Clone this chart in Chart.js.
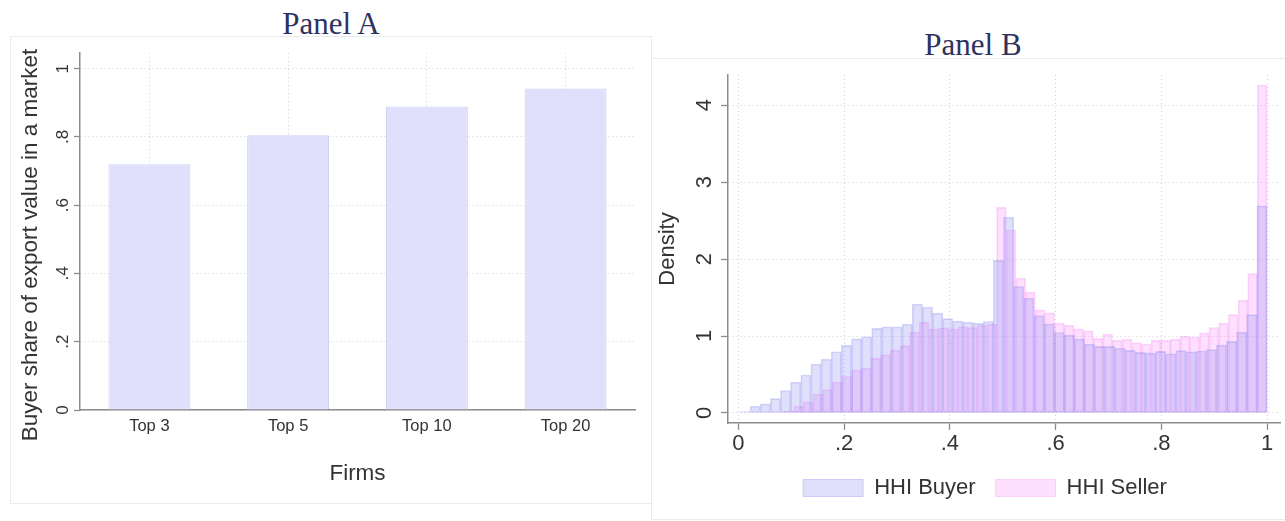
<!DOCTYPE html>
<html>
<head>
<meta charset="utf-8">
<script src="https://cdn.jsdelivr.net/npm/chart.js@4.4.1/dist/chart.umd.min.js"></script>
<style>
  html, body { margin:0; padding:0; background:#ffffff; width:1285px; height:521px; overflow:hidden; }
  .ptitle { position:absolute; font-family:"Liberation Serif", "DejaVu Serif", serif; font-size:31px; line-height:1; color:#2f3160; white-space:nowrap; transform:translateX(-50%); }
  #boxA { position:absolute; left:10px; top:36px; width:642px; height:468px; border:1px solid #e6ebee; box-sizing:border-box; }
  #boxB { position:absolute; left:651px; top:58px; width:645px; height:462px; border:1px solid #e6ebee; box-sizing:border-box; }
  #cA { position:absolute; left:10px; top:36px; }
  #cB { position:absolute; left:652px; top:58px; }
</style>
</head>
<body>
<div id="boxA"></div>
<div id="boxB"></div>
<div class="ptitle" style="left:331px; top:8px;">Panel A</div>
<div class="ptitle" style="left:973px; top:29px;">Panel B</div>
<canvas id="cA" width="642" height="469"></canvas>
<canvas id="cB" width="633" height="461"></canvas>
<script>
// ---------- Panel A data ----------
const firmCategories = ['Top 3', 'Top 5', 'Top 10', 'Top 20'];
const buyerShare = [0.720, 0.805, 0.889, 0.942];
const shareTickValues = [0, 0.2, 0.4, 0.6, 0.8, 1];
const shareTickLabels = ['0', '.2', '.4', '.6', '.8', '1'];
const shareAxisTitle = 'Buyer share of export value in a market';

// ---------- Panel B data (histogram densities, 52 bins each) ----------
const hhiBuyerDensity = [
  0.018, 0.087, 0.118, 0.187, 0.292, 0.400, 0.493, 0.636, 0.698, 0.796,
  0.878, 0.962, 0.990, 1.100, 1.118, 1.118, 1.153, 1.414, 1.377, 1.297,
  1.225, 1.194, 1.179, 1.165, 1.188, 1.983, 2.542, 1.643, 1.490, 1.266,
  1.158, 1.045, 1.012, 0.963, 0.895, 0.865, 0.865, 0.841, 0.813, 0.788,
  0.778, 0.800, 0.770, 0.810, 0.795, 0.805, 0.824, 0.882, 0.930, 1.050,
  1.277, 2.690
];
const hhiSellerDensity = [
  0.003, 0.008, 0.020, 0.088, 0.145, 0.243, 0.305, 0.400, 0.473, 0.558,
  0.582, 0.710, 0.755, 0.815, 0.876, 1.050, 1.178, 1.090, 1.105, 1.090,
  1.120, 1.110, 1.135, 1.150, 2.670, 2.380, 1.750, 1.570, 1.340, 1.300,
  1.167, 1.137, 1.093, 1.067, 0.970, 1.023, 0.943, 0.958, 0.910, 0.896,
  0.943, 0.943, 0.960, 0.995, 0.987, 1.040, 1.110, 1.168, 1.277, 1.462,
  1.810, 4.260
];
const buyerBinStart = 0.0032, buyerBinWidth = 0.01917;
const sellerBinStart = 0.0500, sellerBinWidth = 0.01827;
const hhiTickValues = [0, 0.2, 0.4, 0.6, 0.8, 1];
const hhiTickLabels = ['0', '.2', '.4', '.6', '.8', '1'];
const densityTickValues = [0, 1, 2, 3, 4];
const densityTickLabels = ['0', '1', '2', '3', '4'];

// ---------- shared styling ----------
const FONT = "'Liberation Sans', Arial, Helvetica, sans-serif";
Chart.defaults.font.family = FONT;
Chart.defaults.color = '#333333';
const AXIS = '#8c8c8c';
const GRID = '#d2d2d2';

const noScalePad = s => { s.paddingTop = 0; s.paddingBottom = 0; s.paddingLeft = 0; s.paddingRight = 0; };

const legendShift = {
  id: 'legendShift',
  afterLayout(chart, args, opts) {
    if (chart.legend && opts && opts.dx) {
      chart.legend.left += opts.dx;
      chart.legend.right += opts.dx;
    }
  }
};

// vertical axis title placed at an explicit centre (real text drawn on the canvas)
const sideTitle = {
  id: 'sideTitle',
  afterDraw(chart, args, opts) {
    if (!opts || !opts.text) return;
    const ctx = chart.ctx;
    ctx.save();
    ctx.font = opts.size + 'px ' + FONT;
    ctx.fillStyle = opts.color || '#333';
    ctx.textAlign = 'center';
    ctx.textBaseline = 'middle';
    ctx.translate(opts.x, opts.y);
    ctx.rotate(-Math.PI / 2);
    ctx.fillText(opts.text, 0, 0);
    ctx.restore();
  }
};

// ---------- Panel A ----------
new Chart(document.getElementById('cA'), {
  type: 'bar',
  data: {
    labels: firmCategories,
    datasets: [{
      data: buyerShare,
      backgroundColor: '#e0e0fc',
      borderColor: '#cdcdf6',
      borderWidth: 1,
      borderSkipped: false,
      categoryPercentage: 1,
      barPercentage: 0.59
    }]
  },
  options: {
    responsive: false,
    animation: false,
    devicePixelRatio: 1,
    layout: { padding: { left: 0, right: 17, top: 17, bottom: 0 } },
    plugins: {
      legend: { display: false },
      tooltip: { enabled: false },
      sideTitle: { text: shareAxisTitle, size: 22.5, color: '#333', x: 21, y: 209 }
    },
    scales: {
      x: {
        offset: true,
        grid: { display: true, offset: false, drawTicks: false, color: GRID, lineWidth: 1 },
        border: { display: true, color: AXIS, width: 1.5, dash: [1, 3] },
        ticks: { color: '#333', font: { size: 16.5 }, padding: 7 },
        title: { display: true, text: 'Firms', color: '#333', font: { size: 22.5 }, padding: { top: 0, bottom: 18 } },
        afterFit: s => { s.height = 95; noScalePad(s); }
      },
      y: {
        min: 0, max: 1.046,
        afterBuildTicks: s => { s.ticks = shareTickValues.map(v => ({ value: v })); },
        ticks: {
          callback: (v, i) => shareTickLabels[i],
          minRotation: 90, maxRotation: 90, crossAlign: 'center',
          padding: 4, font: { size: 17 }, color: '#333'
        },
        grid: { color: GRID, lineWidth: 1, tickLength: 6, tickColor: AXIS, tickWidth: 1.3 },
        border: { display: true, color: AXIS, width: 1.5, dash: [1, 3] },
        title: { display: false },
        afterFit: s => { s.width = 70; noScalePad(s); }
      }
    }
  },
  plugins: [sideTitle]
});

// ---------- Panel B ----------
const buyerPoints = hhiBuyerDensity.map((d, k) => ({ x: buyerBinStart + (k + 0.5) * buyerBinWidth, y: d }));
const sellerPoints = hhiSellerDensity.map((d, j) => ({ x: sellerBinStart + (j + 0.5) * sellerBinWidth, y: d }));

new Chart(document.getElementById('cB'), {
  type: 'bar',
  data: {
    datasets: [
      {
        label: 'HHI Buyer',
        data: buyerPoints,
        xAxisID: 'x',
        backgroundColor: 'rgba(140,140,245,0.27)',
        borderColor: 'rgba(120,120,235,0.30)',
        borderWidth: 1,
        borderSkipped: false,
        grouped: false,
        barPercentage: 1,
        categoryPercentage: 1
      },
      {
        label: 'HHI Seller',
        data: sellerPoints,
        xAxisID: 'x2',
        backgroundColor: 'rgba(250,140,250,0.27)',
        borderColor: 'rgba(240,120,240,0.30)',
        borderWidth: 1,
        borderSkipped: false,
        grouped: false,
        barPercentage: 1,
        categoryPercentage: 1
      }
    ]
  },
  options: {
    responsive: false,
    animation: false,
    devicePixelRatio: 1,
    layout: { padding: { left: 0, right: 5, top: 17, bottom: 10 } },
    plugins: {
      tooltip: { enabled: false },
      legend: {
        display: true,
        position: 'bottom',
        labels: { boxWidth: 60, boxHeight: 17, padding: 20, color: '#333', font: { size: 22 } }
      },
      legendShift: { dx: 19 }
    },
    scales: {
      x: {
        type: 'linear',
        offset: false,
        min: -0.0195, max: 1.0245,
        afterBuildTicks: s => { s.ticks = hhiTickValues.map(v => ({ value: v })); },
        ticks: { callback: (v, i) => hhiTickLabels[i], font: { size: 22 }, padding: 0.5, color: '#333', maxRotation: 0 },
        grid: { offset: false, color: GRID, lineWidth: 1, tickLength: 7, tickColor: AXIS, tickWidth: 1.3 },
        border: { display: true, color: AXIS, width: 1.5, dash: [1, 3] },
        afterFit: s => { s.height = 34; noScalePad(s); }
      },
      x2: {
        type: 'linear',
        display: false,
        offset: false,
        min: -0.0195, max: 1.0245,
        grid: { offset: false },
        afterBuildTicks: s => { s.ticks = hhiTickValues.map(v => ({ value: v })); }
      },
      y: {
        min: -0.13, max: 4.39,
        afterBuildTicks: s => { s.ticks = densityTickValues.map(v => ({ value: v })); },
        ticks: {
          callback: (v, i) => densityTickLabels[i],
          minRotation: 90, maxRotation: 90, crossAlign: 'center',
          padding: 10, font: { size: 22 }, color: '#333'
        },
        grid: { color: GRID, lineWidth: 1, tickLength: 7, tickColor: AXIS, tickWidth: 1.3 },
        border: { display: true, color: AXIS, width: 1.5, dash: [1, 3] },
        title: { display: true, text: 'Density', color: '#333', font: { size: 22 }, padding: { top: 3, bottom: 0 } },
        afterFit: s => { s.width = 76; noScalePad(s); }
      }
    }
  },
  plugins: [legendShift]
});
</script>
</body>
</html>
